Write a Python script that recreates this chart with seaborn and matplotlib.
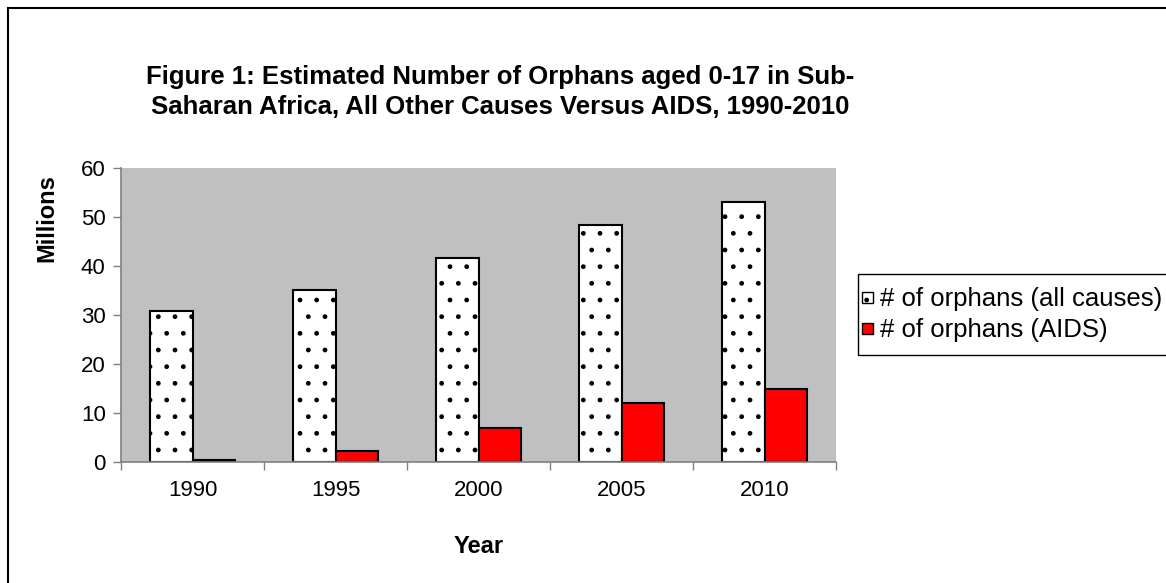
import matplotlib
matplotlib.use("Agg")
import matplotlib.pyplot as plt
from matplotlib.patches import Patch, Rectangle
from matplotlib.legend_handler import HandlerPatch
import pandas as pd
import seaborn as sns

years = ["1990", "1995", "2000", "2005", "2010"]
orphans_all_causes = [30.8, 35.1, 41.7, 48.4, 53.1]
orphans_aids = [0.4, 2.3, 6.9, 12.0, 14.8]
series_names = ["# of orphans (all causes)", "# of orphans (AIDS)"]

df = pd.DataFrame({
    "Year": years * 2,
    "Millions": orphans_all_causes + orphans_aids,
    "Series": [series_names[0]] * len(years) + [series_names[1]] * len(years),
})

sns.set_theme(style="white")
plt.rcParams["font.family"] = ["Liberation Sans", "DejaVu Sans"]
plt.rcParams["text.color"] = "black"
plt.rcParams["axes.labelcolor"] = "black"
plt.rcParams["xtick.color"] = "black"
plt.rcParams["ytick.color"] = "black"
plt.rcParams["hatch.color"] = "black"
plt.rcParams["hatch.linewidth"] = 1.0

W, H = 1166, 583
fig = plt.figure(figsize=(W / 100, H / 100), dpi=100)
ax = fig.add_axes([121 / W, 1 - 462 / H, (836 - 121) / W, (462 - 168) / H])
ax.set_facecolor("#C0C0C0")

sns.barplot(data=df, x="Year", y="Millions", hue="Series", order=years,
            hue_order=series_names, palette=["white", "#FF0000"],
            width=0.59, gap=0, edgecolor="black", linewidth=1.5,
            saturation=1, legend=False, ax=ax)

for bar in ax.containers[0]:
    bar.set_hatch(".")

ax.set_ylim(0, 60)
ax.set_yticks(range(0, 61, 10))
ax.set_xlim(-0.5, len(years) - 0.5)
ax.set_xticks([i - 0.5 for i in range(len(years) + 1)], minor=True)
ax.tick_params(axis="x", which="major", length=0, labelsize=16, pad=13, labelcolor="black")
ax.tick_params(axis="x", which="minor", length=6, direction="out", color="#808080", width=1,
               bottom=True)
ax.tick_params(axis="y", length=6, direction="out", color="#808080", width=1,
               labelsize=16, pad=5, labelcolor="black", left=True)

for side in ("top", "right"):
    ax.spines[side].set_visible(False)
for side in ("left", "bottom"):
    ax.spines[side].set_color("#808080")
    ax.spines[side].set_linewidth(1.2)

ax.set_xlabel("Year", fontsize=17, fontweight="bold")
ax.xaxis.set_label_coords(0.5, -0.247)
ax.set_ylabel("Millions", fontsize=17, fontweight="bold")
ax.yaxis.set_label_coords(-0.087, 0.83)

fig.text(500 / W, 1 - 92 / H,
         "Figure 1: Estimated Number of Orphans aged 0-17 in Sub-\n"
         "Saharan Africa, All Other Causes Versus AIDS, 1990-2010",
         ha="center", va="center", fontsize=18.5, fontweight="bold",
         linespacing=1.32)


def small_square(legend, orig_handle, xdescent, ydescent, width, height, fontsize):
    side = 8.0  # points
    return Rectangle((-xdescent, -ydescent + (height - side) / 2), side, side)


# legend box frame, drawn separately so its padding can differ per direction
fig.patches.append(Rectangle((858 / W, 1 - 355 / H), 320 / W, 81 / H,
                             transform=fig.transFigure, fill=True,
                             facecolor="white", edgecolor="black", linewidth=1.0))

handles = [Patch(facecolor="white", edgecolor="black", hatch=".", label=series_names[0]),
           Patch(facecolor="#FF0000", edgecolor="black", label=series_names[1])]
leg = fig.legend(handles=handles, loc="center left",
                 bbox_to_anchor=(862 / W, 1 - 314 / H),
                 handler_map={Patch: HandlerPatch(patch_func=small_square)},
                 frameon=False, fontsize=18.5,
                 handlelength=0.45, handleheight=1.0, handletextpad=0.25,
                 borderpad=0.0, labelspacing=0.24, borderaxespad=0)

fig.patches.append(Rectangle((8 / W, -0.05), 1.2, 1 - 8 / H + 0.05,
                             transform=fig.transFigure, fill=False,
                             edgecolor="black", linewidth=1.5))

fig.savefig("out.png", dpi=100, facecolor="white")
